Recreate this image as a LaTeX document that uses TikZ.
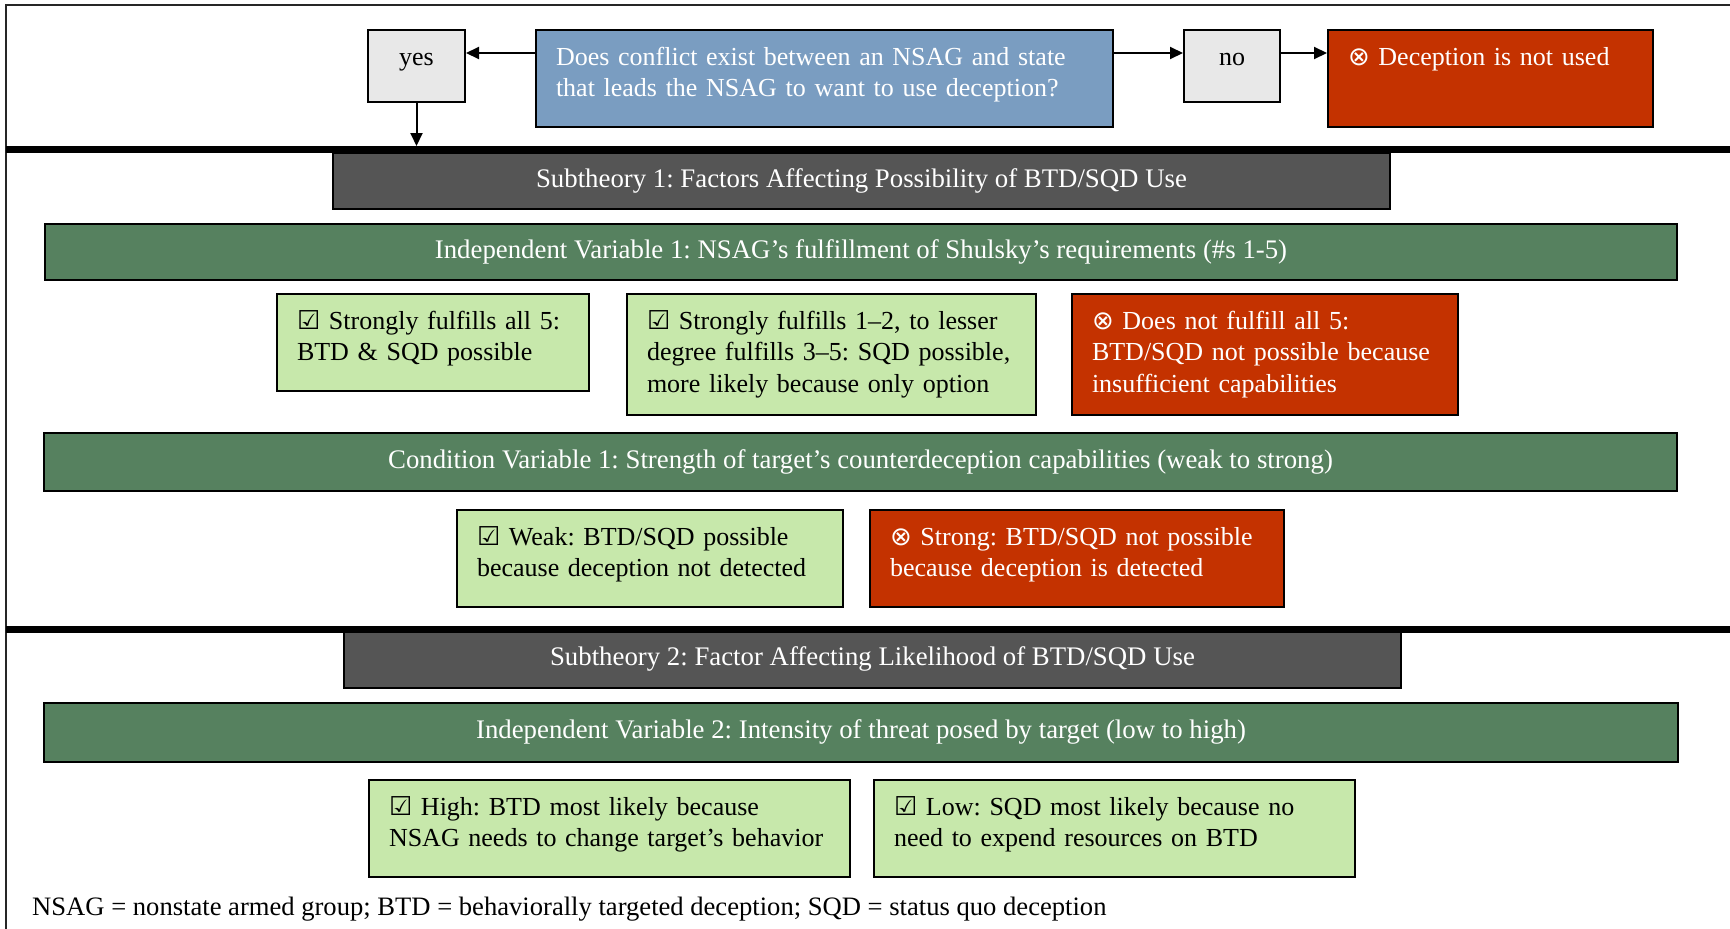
\documentclass[tikz,border=0pt]{standalone}
\usepackage{fontspec}
\setmainfont{Liberation Serif}
\newfontfamily\symfont{DejaVu Sans}
\usetikzlibrary{arrows.meta}
\frenchspacing
\definecolor{qblue}{RGB}{122,157,193}
\definecolor{nored}{RGB}{196,50,0}
\definecolor{answergray}{RGB}{232,232,232}
\definecolor{subgray}{RGB}{85,85,85}
\definecolor{vargreen}{RGB}{86,129,95}
\definecolor{okgreen}{RGB}{199,232,171}
\newcommand{\yesmark}{{\symfont ☑}}
\newcommand{\nomark}{{\symfont ⊗}}
\newcommand{\boxfont}{\fontsize{26pt}{31.5pt}\selectfont\hyphenpenalty=10000 }
\newcommand{\barfont}{\fontsize{26.8pt}{31.5pt}\selectfont}
\newcommand{\notefont}{\fontsize{26.6pt}{31.5pt}\selectfont}
\tikzset{
txtbox/.style={
  draw=black, line width=2pt,
  anchor=north west,
  align=left,
  font=\boxfont,
  inner xsep=20pt, inner ysep=0pt,
  text height=35pt
  },
bar/.style={
  draw=black, line width=2pt,
  anchor=north west,
  inner sep=0pt,
  font=\barfont,
  text=white,
  text height=18pt, text depth=6pt
  }
}

\begin{document}
\begin{tikzpicture}[x=1pt, y=-1pt, >={Triangle[length=13pt,width=12pt]}]
\useasboundingbox (0,0) rectangle (1730,929);

% question row
\node[txtbox, fill=qblue, text=white, text width=537pt, text depth=62pt]
  (question) at (535,29)
  {Does conflict exist between an NSAG and state\\
   that leads the NSAG to want to use deception?};
\node[txtbox, fill=answergray, align=center, text width=57pt, text depth=37pt]
  (yes) at (367,29) {yes};
\node[txtbox, fill=answergray, align=center, text width=56pt, text depth=37pt]
  (no) at (1183,29) {no};
\node[txtbox, fill=nored, text=white, text width=285pt, text depth=62pt]
  (notused) at (1327,29) {\nomark{} Deception is not used};

% subtheory 1
\node[bar, fill=subgray, minimum width=1057pt, minimum height=56pt]
  (sub1) at (332,152) {Subtheory 1: Factors Affecting Possibility of BTD/SQD Use};
\node[bar, fill=vargreen, minimum width=1632pt, minimum height=56pt]
  (iv1) at (44,223) {Independent Variable 1: NSAG’s fulfillment of Shulsky’s requirements (\#s 1-5)};
\node[txtbox, fill=okgreen, text width=272pt, text depth=62pt]
  (fulfillall) at (276,293) {\yesmark{} Strongly fulfills all 5:\\ BTD \& SQD possible};
\node[txtbox, fill=okgreen, text width=369pt, text depth=86pt]
  (fulfillpart) at (626,293)
  {\yesmark{} Strongly fulfills 1–2, to lesser\\
   degree fulfills 3–5: SQD possible,\\
   more likely because only option};
\node[txtbox, fill=nored, text=white, text width=346pt, text depth=86pt]
  (fulfillnone) at (1071,293)
  {\nomark{} Does not fulfill all 5:\\
   BTD/SQD not possible because\\
   insufficient capabilities};
\node[bar, fill=vargreen, minimum width=1633pt, minimum height=58pt]
  (cv1) at (43,432) {Condition Variable 1: Strength of target’s counterdeception capabilities (weak to strong)};
\node[txtbox, fill=okgreen, text width=346pt, text depth=62pt]
  (weak) at (456,509)
  {\yesmark{} Weak: BTD/SQD possible\\ because deception not detected};
\node[txtbox, fill=nored, text=white, text width=374pt, text depth=62pt]
  (strong) at (869,509)
  {\nomark{} Strong: BTD/SQD not possible\\ because deception is detected};

% subtheory 2
\node[bar, fill=subgray, minimum width=1057pt, minimum height=57pt]
  (sub2) at (343,630) {Subtheory 2: Factor Affecting Likelihood of BTD/SQD Use};
\node[bar, fill=vargreen, minimum width=1634pt, minimum height=59pt]
  (iv2) at (43,702) {Independent Variable 2: Intensity of threat posed by target (low to high)};
\node[txtbox, fill=okgreen, text width=441pt, text depth=62pt]
  (high) at (368,779)
  {\yesmark{} High: BTD most likely because\\ NSAG needs to change target’s behavior};
\node[txtbox, fill=okgreen, text width=441pt, text depth=62pt]
  (low) at (873,779)
  {\yesmark{} Low: SQD most likely because no\\ need to expend resources on BTD};

\node[anchor=base west, inner sep=0pt, font=\notefont] (note) at (32,915)
  {NSAG = nonstate armed group; BTD = behaviorally targeted deception; SQD = status quo deception};

% frame and section rules
\draw[line width=1.3pt, black!85] (6,929) |- (1730,5);
\fill (6,146) rectangle (1730,153);
\fill (6,626) rectangle (1730,633);
\coordinate (rule1) at (6,146);

\draw[->, line width=2pt] ([yshift=-24pt]question.north west) -- ([yshift=-24pt]yes.north east);
\draw[->, line width=2pt] ([yshift=-24pt]question.north east) -- ([yshift=-24pt]no.north west);
\draw[->, line width=2pt] ([yshift=-24pt]no.north east) -- ([yshift=-24pt]notused.north west);
\draw[->, line width=2pt] (yes.south) -- (yes.south |- rule1);
\end{tikzpicture}
\end{document}
